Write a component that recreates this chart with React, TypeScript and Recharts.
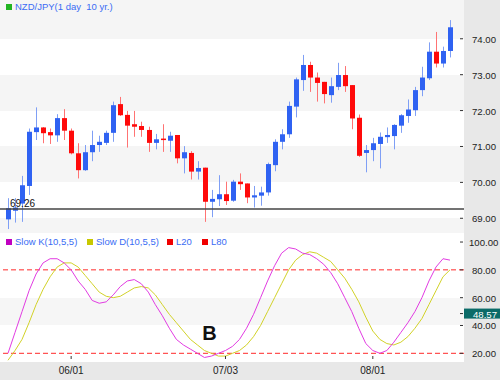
import React from "react";
import {
  ComposedChart,
  Bar,
  Line,
  XAxis,
  YAxis,
  CartesianGrid,
  ReferenceLine,
  ReferenceDot,
} from "recharts";

// daily NZD/JPY candles
const open = [
  68.97, 69.21, 69.41, 69.9, 71.4, 71.53, 71.4, 71.31, 71.79, 71.44, 70.81, 70.34, 70.84, 71.04, 71.1, 71.38,
  72.18, 71.88, 71.62, 71.57, 71.46, 71.1, 71.22, 71.16, 71.32, 70.67, 70.82, 70.3, 70.41, 69.46, 69.53, 69.67,
  69.49, 70.02, 69.97, 69.58, 69.63, 69.72, 70.48, 71.13, 71.34, 72.11, 72.85, 73.27, 72.92, 72.8, 72.43, 72.66,
  72.99, 72.71, 71.8, 70.82, 70.9, 71.07, 71.26, 71.29, 71.58, 71.85, 72.01, 72.57, 72.9, 73.64, 73.31, 73.66,
];
const high = [
  69.56, 69.56, 70.18, 71.5, 72.09, 71.54, 71.5, 71.9, 72.04, 71.5, 71.09, 71.04, 71.44, 71.3, 71.44, 72.25,
  72.38, 71.99, 71.99, 71.69, 71.55, 71.35, 71.62, 71.41, 71.32, 71.01, 70.87, 70.59, 70.41, 69.79, 70.2, 70.02,
  70.07, 70.25, 69.97, 69.9, 69.88, 70.55, 71.2, 71.48, 72.25, 72.92, 73.55, 73.36, 73.06, 72.8, 72.92, 73.33,
  73.24, 72.71, 71.89, 71.04, 71.24, 71.39, 71.53, 71.62, 71.9, 72.31, 72.66, 73.22, 73.9, 74.19, 73.78, 74.52,
];
const low = [
  68.7, 68.88, 68.9, 69.65, 71.18, 71.09, 71.07, 71.13, 71.18, 70.78, 70.11, 70.32, 70.59, 70.85, 71.04, 71.13,
  71.85, 70.97, 71.27, 71.27, 70.85, 70.92, 70.85, 70.85, 70.53, 70.25, 70.08, 70.08, 68.9, 69.03, 69.34, 69.37,
  69.46, 69.79, 69.42, 69.3, 69.35, 69.63, 70.31, 70.92, 71.24, 71.81, 72.55, 72.52, 72.25, 72.2, 72.22, 72.57,
  72.52, 71.48, 70.71, 70.28, 70.59, 70.39, 71.1, 70.92, 71.38, 71.66, 71.85, 72.4, 72.85, 73.2, 73.2, 73.48,
];
const close = [
  69.28, 69.3, 69.92, 71.41, 71.53, 71.37, 71.31, 71.79, 71.44, 70.81, 70.34, 70.84, 71.04, 71.13, 71.38, 72.15,
  71.87, 71.58, 71.55, 71.46, 71.1, 71.2, 71.19, 71.3, 70.67, 70.84, 70.3, 70.4, 69.46, 69.54, 69.67, 69.48,
  70.02, 69.95, 69.58, 69.64, 69.72, 70.51, 71.13, 71.34, 72.13, 72.87, 73.27, 72.92, 72.77, 72.46, 72.68, 72.99,
  72.68, 71.78, 70.74, 70.9, 71.09, 71.27, 71.32, 71.6, 71.87, 72.03, 72.57, 72.92, 73.64, 73.31, 73.66, 74.32,
];

// Slow K / Slow D (10,5,5)
const slowK = [
  20, 35, 50, 65, 77, 85, 88, 88, 85, 80, 72, 66, 58, 56, 57, 62,
  68, 72, 73, 70, 64, 55, 47, 38, 30, 26, 23, 20, 17, 18, 20, 22,
  25, 30, 38, 48, 60, 72, 83, 92, 96, 95, 92, 91, 88, 84, 78, 70,
  60, 50, 38, 27, 22, 20, 22, 28, 35, 42, 50, 60, 72, 82, 88, 87,
];
const slowD = [
  15, 22, 30, 42, 55, 66, 75, 82, 85, 85, 82, 76, 70, 64, 61, 60,
  61, 64, 67, 68, 67, 62, 55, 48, 42, 36, 30, 26, 22, 20, 18, 18,
  20, 22, 26, 32, 40, 50, 60, 70, 80, 87, 91, 93, 92, 89, 86, 80,
  74, 66, 57, 46, 36, 30, 27, 26, 28, 32, 38, 45, 55, 65, 75, 80,
];

const dateTickIndex = [9, 31, 52];
const dateTickLabels = ["06/01", "07/03", "08/01"];
const priceTicks = [69, 70, 71, 72, 73, 74];
const stochTicks = [20, 40, 60, 80, 100];
const lastLevel = 69.26;
const stochMarker = 48.57;

const data = open.map((o, i) => ({
  i,
  open: o,
  high: high[i],
  low: low[i],
  close: close[i],
  k: slowK[i],
  d: slowD[i],
}));

const FONT = "'Liberation Sans', Arial, sans-serif";
const UP = "#2f62f2";
const UP_WICK = "#7f9ff5";
const DOWN = "#ff0a0a";
const DOWN_WICK = "#ff7373";
const LEGEND_TEXT = "#3a6cf4";
const PANEL = "#e8e8e8";

const Candle = (props: any) => {
  const { x, y, width, height, payload } = props;
  const up = payload.close >= payload.open;
  const top = Math.min(y, y + height);
  const h = Math.abs(height);
  const ratio = h / (payload.high - payload.low || 1);
  const cx = Math.round(x + width / 2) + 0.5;
  const yOf = (v: number) => top + (payload.high - v) * ratio;
  const bTop = yOf(Math.max(payload.open, payload.close));
  const bBot = yOf(Math.min(payload.open, payload.close));
  return (
    <g>
      <line x1={cx} x2={cx} y1={top} y2={top + h} stroke={up ? UP_WICK : DOWN_WICK} strokeWidth={1} />
      <rect x={cx - 2.5} y={bTop} width={5} height={Math.max(1.5, bBot - bTop)} fill={up ? UP : DOWN} />
    </g>
  );
};

const PriceTick = (props: any) => {
  const { y, payload } = props;
  // the 3-digit label would run past the right edge, so it starts a bit earlier
  const tx = payload.value >= 100 ? 469 : 472;
  return (
    <g>
      <line x1={460} x2={463} y1={y} y2={y} stroke="#333" />
      <text x={tx} y={y + 4} fontSize={9.6} fill="#222" fontFamily={FONT}>
        {payload.value.toFixed(2)}
      </text>
    </g>
  );
};

const StochTick = (props: any) => {
  const { y, payload } = props;
  if (payload.value === stochMarker) {
    return (
      <g>
        <line x1={460} x2={463} y1={y} y2={y} stroke="#333" />
        <rect x={464} y={y - 5} width={36} height={10} fill="#0b6b68" />
        <text x={473} y={y + 4} fontSize={9.6} fill="#fff" fontFamily={FONT}>
          {payload.value.toFixed(2)}
        </text>
      </g>
    );
  }
  return <PriceTick {...props} />;
};

const DateTick = (props: any) => {
  const { x, payload } = props;
  const at = dateTickIndex.indexOf(payload.value);
  if (at < 0) return null;
  return (
    <g>
      <line x1={x} x2={x} y1={123} y2={126} stroke="#333" />
      <text x={x} y={141} textAnchor="middle" fontSize={10} fill="#222" fontFamily={FONT}>
        {dateTickLabels[at]}
      </text>
    </g>
  );
};

const LegendItem = ({ color, label, left, top }: { color: string; label: string; left: number; top: number }) => (
  <div style={{ position: "absolute", left, top, display: "flex", alignItems: "center", fontSize: 9.5, color: LEGEND_TEXT, whiteSpace: "pre" }}>
    <span style={{ width: 6, height: 6, background: color, marginRight: 3 }} />
    {label}
  </div>
);

export default function App() {
  return (
    <div style={{ position: "absolute", left: 0, top: 0, width: 500, height: 380, background: PANEL, fontFamily: FONT }}>
      <ComposedChart width={500} height={233} data={data} margin={{ top: 0, right: 0, bottom: 0, left: 0 }}>
        <CartesianGrid vertical={false} stroke="none" horizontalFill={["#f5f5f5", "#ffffff"]} />
        <XAxis dataKey="i" hide padding={{ left: 4.5, right: 10.5 }} />
        <YAxis
          orientation="right"
          width={36}
          domain={[68.59, 75.08]}
          allowDataOverflow
          ticks={priceTicks}
          interval={0}
          tick={PriceTick}
          axisLine={false}
          tickLine={false}
        />
        <ReferenceLine
          y={lastLevel}
          stroke="#444"
          strokeWidth={1.5}
          label={(p: any) => (
            <text x={p.viewBox.x + 10} y={p.viewBox.y - 2} fontSize={10} fill="#111" fontFamily={FONT}>
              {lastLevel.toFixed(2)}
            </text>
          )}
        />
        <Bar dataKey={(d: any) => [d.low, d.high]} shape={Candle} isAnimationActive={false} />
      </ComposedChart>
      <ComposedChart width={500} height={147} data={data} margin={{ top: 0, right: 0, bottom: 0, left: 0 }}>
        <CartesianGrid
          vertical={false}
          stroke="none"
          horizontalFill={["#ffffff", "#ffffff", "#ffffff", "#f6f6f6", "#f6f6f6", "#ffffff", "#ffffff"]}
        />
        <XAxis
          dataKey="i"
          height={18}
          padding={{ left: 8, right: 14 }}
          interval={0}
          tick={DateTick}
          axisLine={false}
          tickLine={false}
        />
        <YAxis
          orientation="right"
          width={36}
          domain={[13.75, 106.5]}
          allowDataOverflow
          ticks={[...stochTicks, stochMarker]}
          interval={0}
          tick={StochTick}
          axisLine={false}
          tickLine={false}
        />
        <ReferenceLine y={80} stroke="#ff2a2a" strokeDasharray="5 3" />
        <ReferenceLine y={20} stroke="#ff2a2a" strokeDasharray="5 3" />
        <Line dataKey="d" stroke="#d2d228" strokeWidth={1} dot={false} isAnimationActive={false} />
        <Line dataKey="k" stroke="#e23be2" strokeWidth={1} dot={false} isAnimationActive={false} />
        <ReferenceDot
          x={29}
          y={35}
          r={0}
          fill="none"
          stroke="none"
          label={{ value: "B", fontSize: 20, fontWeight: "bold", fill: "#111", fontFamily: FONT, dx: -2 }}
        />
      </ComposedChart>
      <LegendItem color="#22b422" label="NZD/JPY(1 day  10 yr.)" left={6} top={1} />
      <LegendItem color="#c000c0" label="Slow K(10,5,5)" left={6} top={236} />
      <LegendItem color="#c8c800" label="Slow D(10,5,5)" left={87} top={236} />
      <LegendItem color="#f00000" label="L20" left={167} top={236} />
      <LegendItem color="#f00000" label="L80" left={202} top={236} />
    </div>
  );
}
